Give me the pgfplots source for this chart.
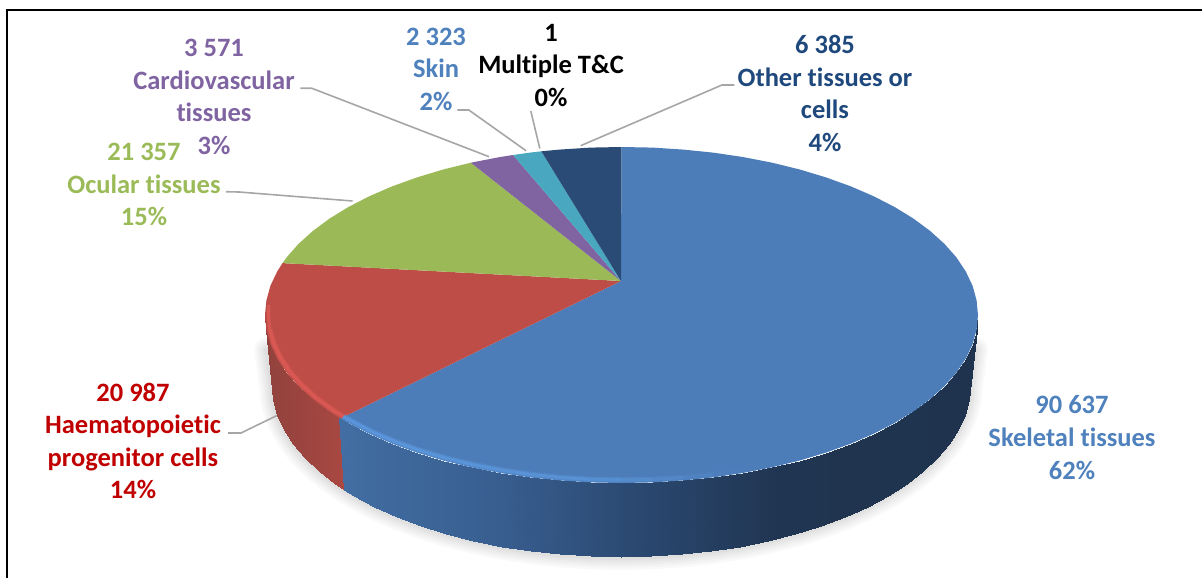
\documentclass[border=0pt]{standalone}
\usepackage{pgfplots}
\usepackage{pgfplotstable}
\usepackage{fontspec}
\setmainfont[Ligatures=NoCommon]{Carlito}
\pgfplotsset{compat=1.18}
\definecolor{cblue}{RGB}{77,125,185}
\definecolor{cred}{RGB}{190,77,72}
\definecolor{cgreen}{RGB}{155,186,87}
\definecolor{cpurple}{RGB}{128,100,162}
\definecolor{ccyan}{RGB}{73,168,192}
\definecolor{cnavy}{RGB}{41,75,118}
\definecolor{tblue}{RGB}{79,129,189}
\definecolor{tnavy}{RGB}{31,73,125}
\definecolor{tgreen}{RGB}{155,187,89}
\definecolor{tpurple}{RGB}{128,100,162}
\definecolor{tred}{RGB}{192,0,0}
\definecolor{leader}{RGB}{166,166,166}
\pgfplotsset{
  colormap={blueside}{rgb255(265)=(66,110,163); rgb255(340)=(66,110,163); rgb255(500)=(56,94,143); rgb255(640)=(42,72,112); rgb255(780)=(32,53,81); rgb255(978)=(31,51,78)},
  colormap={redside}{rgb255(265)=(145,66,61); rgb255(300)=(155,68,63); rgb255(345)=(170,72,66); rgb255(978)=(170,72,66)},
  colormap={bevelblue}{rgb255(265)=(92,152,224); rgb255(345)=(92,152,224); rgb255(600)=(90,148,215); rgb255(740)=(77,125,185); rgb255(978)=(77,125,185)},
}
\tikzset{lbl/.style={font=\fontsize{26.6}{32.7}\selectfont\bfseries, align=center, inner sep=0pt}}
% outer edge of the floor of the pie, pixels
\pgfplotstableread{
x y
267 350
272 385
273.3 400
277.3 414.9
283.9 429.5
293 443.8
304.7 457.7
318.8 471
335.1 483.7
353.7 495.6
374.2 506.6
396.7 516.8
420.8 525.9
446.5 534
473.5 540.9
501.6 546.6
530.7 551.1
560.4 554.4
590.6 556.3
621 557
651.4 556.3
681.6 554.4
711.3 551.1
740.4 546.6
768.5 540.9
795.5 534
821.2 525.9
845.3 516.8
867.8 506.6
888.3 495.6
906.9 483.7
923.2 471
937.3 457.7
949 443.8
958.1 429.5
964.7 414.9
968.7 400
970 385
975 350
}\floorarc
\begin{document}
\begin{tikzpicture}
\path[use as bounding box] (0,0) rectangle (1202bp,578bp);
\begin{axis}[
  at={(0,0)}, anchor=south west,
  width=1202bp, height=578bp, scale only axis,
  xmin=0, xmax=1202, ymin=0, ymax=578, y dir=reverse,
  hide axis,
  point meta min=265, point meta max=978,
]
% frame
\addplot[black, line width=1.6bp] coordinates {(7,578) (7,10) (1202,10)};
% soft shadow
\addplot[black, opacity=0.025, line width=26bp, line join=round, line cap=round] table {\floorarc};
\addplot[black, opacity=0.025, line width=21bp, line join=round, line cap=round] table {\floorarc};
\addplot[black, opacity=0.025, line width=16bp, line join=round, line cap=round] table {\floorarc};
\addplot[black, opacity=0.03, line width=11bp, line join=round, line cap=round] table {\floorarc};
\addplot[black, opacity=0.03, line width=6bp, line join=round, line cap=round] table {\floorarc};
% side wall
\addplot[surf, shader=interp, mesh/cols=2, mesh/ordering=x varies, point meta=x, colormap name=redside] table {
x y
265 315 
272 385
266.4 329.6
273.3 400
270.4 344.2
277.3 414.9
277.2 358.5
283.9 429.5
286.5 372.5
293 443.8
298.4 386
304.7 457.7
312.8 399
318.8 471
329.5 411.4
335.1 483.7
338.7 417
344 489.5
};
\addplot[surf, shader=interp, mesh/cols=2, mesh/ordering=x varies, point meta=x, colormap name=blueside] table {
x y
338.7 417
344 489.5
348.4 423
353.7 495.6
369.4 433.8
374.2 506.6
392.3 443.7
396.7 516.8
417 452.6
420.8 525.9
443.2 460.5
446.5 534
470.8 467.3
473.5 540.9
499.6 472.9
501.6 546.6
529.2 477.3
530.7 551.1
559.6 480.4
560.4 554.4
590.4 482.4
590.6 556.3
621.5 483
621 557
652.6 482.4
651.4 556.3
683.4 480.4
681.6 554.4
713.8 477.3
711.3 551.1
743.4 472.9
740.4 546.6
772.2 467.3
768.5 540.9
799.8 460.5
795.5 534
826 452.6
821.2 525.9
850.7 443.7
845.3 516.8
873.6 433.8
867.8 506.6
894.6 423
888.3 495.6
913.5 411.4
906.9 483.7
930.2 399
923.2 471
944.6 386
937.3 457.7
956.5 372.5
949 443.8
965.8 358.5
958.1 429.5
972.6 344.2
964.7 414.9
976.6 329.6
968.7 400
978 315
970 385
};
% top face, 62 %
\addplot[fill=cblue, draw=none] coordinates {
(621,281) (621.5,147) (652.6,147.6) (683.4,149.6) (713.8,152.7) (743.4,157.1) (772.2,162.7) (799.8,169.5)
(826,177.4) (850.7,186.3) (873.6,196.2) (894.6,207) (913.5,218.6) (930.2,231) (944.6,244) (956.5,257.5)
(965.8,271.5) (972.6,285.8) (976.6,300.4) (978,315) (976.6,329.6) (972.6,344.2) (965.8,358.5) (956.5,372.5)
(944.6,386) (930.2,399) (913.5,411.4) (894.6,423) (873.6,433.8) (850.7,443.7) (826,452.6) (799.8,460.5)
(772.2,467.3) (743.4,472.9) (713.8,477.3) (683.4,480.4) (652.6,482.4) (621.5,483) (590.4,482.4) (559.6,480.4)
(529.2,477.3) (499.6,472.9) (470.8,467.3) (443.2,460.5) (417,452.6) (392.3,443.7) (369.4,433.8) (348.4,423) (340.6,418.4)
} --cycle;
% 14 %
\addplot[fill=cred, draw=none] coordinates {
(621,281) (340.6,418.4) (329.5,411.4) (312.8,399) (298.4,386) (286.5,372.5) (277.2,358.5) (270.4,344.2)
(266.4,329.6) (265,315) (266.4,300.4) (270.4,285.8) (277.2,271.5) (282.5,263.1)
} --cycle;
% 15 %
\addplot[fill=cgreen, draw=none] coordinates {
(621,281) (282.5,263.1) (286.5,257.5) (298.4,244) (312.8,231) (329.5,218.6) (348.4,207) (369.4,196.2)
(392.3,186.3) (417,177.4) (443.2,169.5) (470.8,162.7)
} --cycle;
% 3 %
\addplot[fill=cpurple, draw=none] coordinates {(621,281) (470.8,162.7) (499.6,157.1) (513.1,155)} --cycle;
% 2 %
\addplot[fill=ccyan, draw=none] coordinates {(621,281) (513.1,155) (529.2,152.7) (541.3,151.3)} --cycle;
% 4 %
\addplot[fill=cnavy, draw=none] coordinates {(621,281) (541.3,151.3) (559.6,149.6) (590.4,147.6) (621.5,147)} --cycle;
% rim highlight
\addplot[color={rgb,255:red,222;green,90;blue,85}, opacity=0.45, line width=5.5bp, line join=round] coordinates {
(343.3,416.6) (332.3,409.6) (315.8,397.5) (301.6,384.7) (289.8,371.4) (280.5,357.7) (273.9,343.7) (269.8,329.4)
};
\addplot[color={rgb,255:red,222;green,90;blue,85}, opacity=0.8, line width=3bp, line join=round] coordinates {
(343.3,416.6) (332.3,409.6) (315.8,397.5) (301.6,384.7) (289.8,371.4) (280.5,357.7) (273.9,343.7) (269.8,329.4) (268.5,315) (269,305)
};
\addplot[mesh, point meta=x, colormap name=bevelblue, opacity=0.45, line width=5.5bp] coordinates {
(343.3,416.6) (371.9,431.7) (394.6,441.4) (419,450.2) (445,457.9) (472.3,464.5) (500.8,470) (530.1,474.4)
(560.2,477.5) (590.7,479.4) (621.5,480) (652.3,479.4) (682.8,477.5) (712.9,474.4) (742.2,470)
};
\addplot[mesh, point meta=x, colormap name=bevelblue, opacity=0.8, line width=3bp] coordinates {
(343.3,416.6) (371.9,431.7) (394.6,441.4) (419,450.2) (445,457.9) (472.3,464.5) (500.8,470) (530.1,474.4)
(560.2,477.5) (590.7,479.4) (621.5,480) (652.3,479.4) (682.8,477.5) (712.9,474.4) (742.2,470)
};
% leader lines
\addplot[leader, line width=1.6bp] coordinates {(300.4,88.3) (311.9,88.3) (489,156.7)};
\addplot[leader, line width=1.6bp] coordinates {(457.3,110) (468.8,110) (526,150.7)};
\addplot[leader, line width=1.6bp] coordinates {(530.8,111) (539.8,148.5)};
\addplot[leader, line width=1.6bp] coordinates {(734.4,85) (722,85) (580.7,145.7)};
\addplot[leader, line width=1.6bp] coordinates {(225.8,191.7) (239,192) (352.5,201)};
\addplot[leader, line width=1.6bp] coordinates {(228,433) (241,433) (277,415.5)};
% labels
\node[lbl, text=tpurple] at (axis cs:214,97) {3 571\\Cardiovascular\\tissues\\3\%};
\node[lbl, text=tblue] at (axis cs:436,69) {2 323\\Skin\\2\%};
\node[lbl, text=black] at (axis cs:551,65.5) {1\\Multiple T\&C\\0\%};
\node[lbl, text=tnavy] at (axis cs:825,93.5) {6 385\\Other tissues or\\cells\\4\%};
\node[lbl, text=tgreen] at (axis cs:144,184.5) {21 357\\Ocular tissues\\15\%};
\node[lbl, text=tred] at (axis cs:133,441) {20 987\\Haematopoietic\\progenitor cells\\14\%};
\node[lbl, text=tblue] at (axis cs:1072,437.5) {90 637\\Skeletal tissues\\62\%};
\end{axis}
\end{tikzpicture}
\end{document}
